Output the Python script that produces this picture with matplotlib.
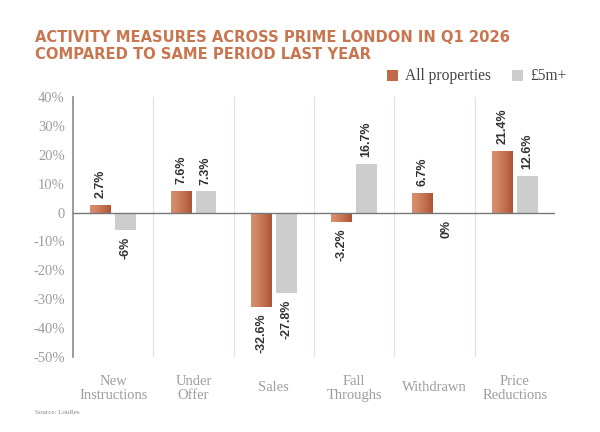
import numpy as np
import matplotlib
matplotlib.use("Agg")
import matplotlib.pyplot as plt
from matplotlib.patches import Rectangle

categories = ["New\nInstructions", "Under\nOffer", "Sales", "Fall\nThroughs", "Withdrawn", "Price\nReductions"]
all_props = [2.7, 7.6, -32.6, -3.2, 6.7, 21.4]
five_m = [-6.0, 7.3, -27.8, 16.7, 0.0, 12.6]
all_labels = ["2.7%", "7.6%", "-32.6%", "-3.2%", "6.7%", "21.4%"]
five_labels = ["-6%", "7.3%", "-27.8%", "16.7%", "0%", "12.6%"]
yticks = [40, 30, 20, 10, 0, -10, -20, -30, -40, -50]
ytick_labels = ["40%", "30%", "20%", "10%", "0", "-10%", "-20%", "-30%", "-40%", "-50%"]

W, H = 600, 432
fig = plt.figure(figsize=(6, 4.32), dpi=100)
fig.patch.set_facecolor("white")

def fx(px):
    return px / W

def fy(py):
    return 1 - py / H

ax = fig.add_axes([fx(73), fy(357), fx(555) - fx(73), fy(97) - fy(357)])
ax.set_xlim(-0.5, 5.5)
ax.set_ylim(-50, 40)

orange_l = np.array([0.85, 0.56, 0.43])
orange_r = np.array([0.68, 0.33, 0.21])
grey = "#cdcdcd"
bw = 0.26
off = 0.155
x = np.arange(len(categories))

grad = np.linspace(0, 1, 64)
img = np.zeros((1, 64, 3))
for i in range(3):
    img[0, :, i] = orange_l[i] + (orange_r[i] - orange_l[i]) * grad ** 1.3

for i, v in enumerate(all_props):
    bars = ax.bar(x[i] - off, v, width=bw, color=orange_l, zorder=3)
    b = bars[0]
    y0, y1 = sorted([0, v])
    im = ax.imshow(img, extent=[x[i] - off - bw / 2, x[i] - off + bw / 2, y0, y1],
                   aspect="auto", zorder=3.5, interpolation="bilinear")
    im.set_clip_path(b)
ax.bar(x + off, five_m, width=bw, color=grey, zorder=3)
ax.set_xlim(-0.5, 5.5)
ax.set_ylim(-50, 40)

lab_font = dict(family="Liberation Sans", fontweight="bold", fontsize=9, color="#333333", rotation=90)
for i in range(len(categories)):
    for xv, v, t in [(x[i] - off, all_props[i], all_labels[i]), (x[i] + off, five_m[i], five_labels[i])]:
        if v > 0:
            ax.annotate(t, (xv, v), xytext=(0, 5), textcoords="offset points", ha="center", va="bottom", **lab_font)
        else:
            ax.annotate(t, (xv, v), xytext=(0, -5), textcoords="offset points", ha="center", va="top", **lab_font)

for s in range(1, 6):
    ax.axvline(s - 0.5, color="#e6e0da", lw=0.9, zorder=1)
ax.axhline(0, color="#777777", lw=1.0, zorder=4)

for sp in ["top", "right", "bottom"]:
    ax.spines[sp].set_visible(False)
ax.spines["left"].set_color("#8a8a8a")
ax.spines["left"].set_linewidth(1.2)

ax.set_yticks(yticks)
ax.set_yticklabels(ytick_labels, family="Liberation Serif", fontsize=10.5, color="#9d9d9d")
ax.tick_params(axis="y", length=0, pad=6)
ax.set_xticks(x)
ax.set_xticklabels(categories, family="Liberation Serif", fontsize=10.5, color="#9d9d9d", linespacing=1.1)
ax.tick_params(axis="x", length=0, pad=13)
for lbl in ax.get_xticklabels():
    if "\n" not in lbl.get_text():
        lbl.set_y(-0.024)

fig.text(fx(35), fy(46), "ACTIVITY MEASURES ACROSS PRIME LONDON IN Q1 2026\nCOMPARED TO SAME PERIOD LAST YEAR",
         family="DejaVu Sans", fontweight="bold", fontsize=10.6, color="#c8764f", linespacing=1.12,
         va="center", ha="left")

fig.add_artist(Rectangle((fx(387), fy(81)), fx(11), fy(70) - fy(81), transform=fig.transFigure,
                         facecolor="#c06a48", edgecolor="none"))
fig.text(fx(405), fy(75.5), "All properties", family="Liberation Serif", fontsize=11.2, color="#444444", va="center")
fig.add_artist(Rectangle((fx(512), fy(81)), fx(11), fy(70) - fy(81), transform=fig.transFigure,
                         facecolor=grey, edgecolor="none"))
fig.text(fx(530), fy(75.5), "£5m+", family="Liberation Serif", fontsize=11.2, color="#444444", va="center")

fig.text(fx(35), fy(412), "Source: LonRes", family="Liberation Serif", fontsize=5, color="#888888", va="center")

fig.savefig("out.png", dpi=100)
